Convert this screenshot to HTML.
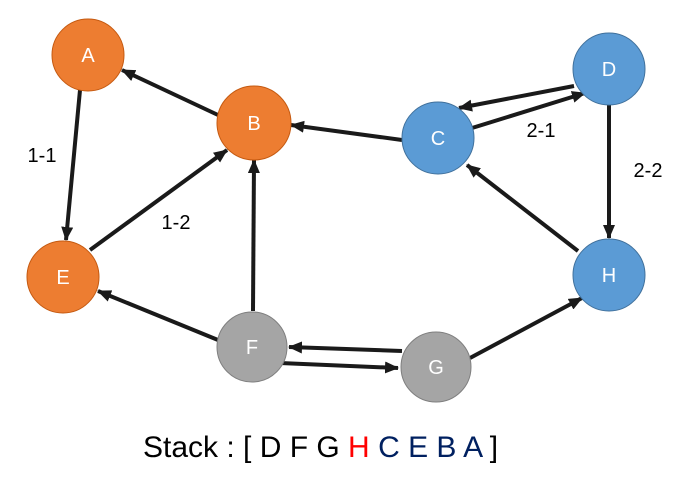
<!DOCTYPE html>
<html><head><meta charset="utf-8"><style>
html,body{margin:0;padding:0;background:#fff;width:697px;height:499px;overflow:hidden}
svg{display:block;font-family:"Liberation Sans",sans-serif}
</style></head><body>
<svg width="697" height="499" viewBox="0 0 697 499">
<defs><marker id="ar" markerWidth="10" markerHeight="10" refX="9" refY="5" orient="auto" markerUnits="userSpaceOnUse" viewBox="0 0 10 10"><path d="M0,0 L10,5 L0,10 z" fill="#1a1a1a"/></marker>
<marker id="a" markerWidth="14" markerHeight="12" refX="13" refY="6" orient="auto" markerUnits="userSpaceOnUse"><path d="M0,0 L14,6 L0,12 z" fill="#1a1a1a"/></marker></defs>
<g stroke="#1a1a1a" stroke-width="4" fill="none" marker-end="url(#a)">
<line x1="80" y1="90" x2="66" y2="240"/>
<line x1="218" y1="115" x2="122" y2="70"/>
<line x1="90" y1="250" x2="227" y2="150"/>
<line x1="253" y1="311" x2="254" y2="160"/>
<line x1="218" y1="340" x2="98" y2="291"/>
<line x1="402" y1="140" x2="291" y2="125"/>
<line x1="574" y1="86" x2="459" y2="108"/>
<line x1="472" y1="128" x2="585" y2="93"/>
<line x1="609" y1="105" x2="609" y2="238"/>
<line x1="578" y1="251" x2="467" y2="165"/>
<line x1="470" y1="358" x2="582" y2="298"/>
<line x1="402" y1="351" x2="289" y2="347"/>
<line x1="280" y1="363" x2="398" y2="368"/>
</g>
<g stroke="#7f7f7f" stroke-width="1">
<circle cx="88" cy="55" r="36" fill="#ED7D31" stroke="#c55a11"/>
<circle cx="254" cy="123" r="37" fill="#ED7D31" stroke="#c55a11"/>
<circle cx="63" cy="277" r="36" fill="#ED7D31" stroke="#c55a11"/>
<circle cx="438" cy="138" r="36" fill="#5B9BD5" stroke="#41719c"/>
<circle cx="609" cy="69" r="36" fill="#5B9BD5" stroke="#41719c"/>
<circle cx="609" cy="275" r="36" fill="#5B9BD5" stroke="#41719c"/>
<circle cx="252" cy="347" r="35" fill="#A5A5A5"/>
<circle cx="436" cy="367" r="35" fill="#A5A5A5"/>
</g>
<g fill="#fff" font-size="20" text-anchor="middle">
<text x="88" y="62">A</text><text x="254" y="130">B</text><text x="63" y="284">E</text>
<text x="438" y="145">C</text><text x="609" y="76">D</text><text x="609" y="282">H</text>
<text x="252" y="354">F</text><text x="436" y="374">G</text>
</g>
<g fill="#000" font-size="20" text-anchor="middle">
<text x="42" y="162">1-1</text><text x="176" y="229">1-2</text>
<text x="541" y="137">2-1</text><text x="648" y="177">2-2</text>
</g>
<text x="143" y="457" font-size="30" fill="#000" xml:space="preserve">Stack : [ D F G <tspan fill="#ff0000">H</tspan> <tspan fill="#002060">C E B A</tspan> ]</text>
</svg>
</body></html>
